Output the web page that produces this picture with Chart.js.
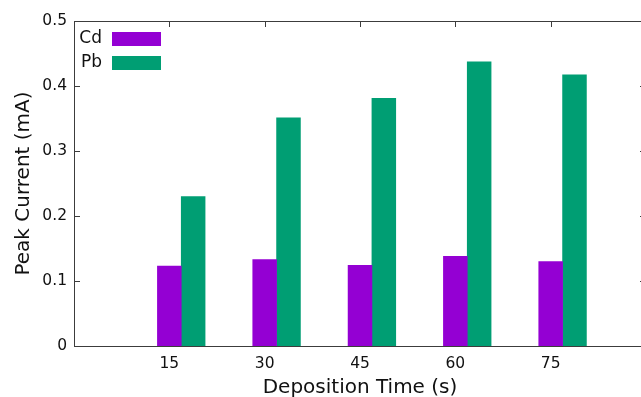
<!DOCTYPE html>
<html>
<head>
<meta charset="utf-8">
<script src="https://cdn.jsdelivr.net/npm/chart.js@4.4.1/dist/chart.umd.min.js"></script>
<style>
  html, body { margin: 0; padding: 0; background: #fff; overflow: hidden; }
  #wrap { width: 641px; height: 397px; overflow: hidden; }
  canvas { display: block; }
</style>
</head>
<body>
<div id="wrap"><canvas id="chart" width="650" height="400"></canvas></div>
<script>
// data
const times  = [15, 30, 45, 60, 75];
const cdPeak = [0.123, 0.133, 0.124, 0.138, 0.130];
const pbPeak = [0.230, 0.351, 0.381, 0.437, 0.417];
const yTicks = [0, 0.1, 0.2, 0.3, 0.4, 0.5];

const FONT = "'DejaVu Sans', Verdana, sans-serif";
const INK  = '#111';
const AXIS = '#3c3c3c';

// gnuplot style frame with inward ticks on all four sides
const framePlugin = {
  id: 'frame',
  beforeDatasetsDraw(chart) {
    const { ctx, chartArea: a, scales: { x, y } } = chart;
    ctx.save();
    ctx.strokeStyle = AXIS;
    ctx.lineWidth = 1;
    ctx.beginPath();
    yTicks.forEach(v => {
      const py = Math.round(y.getPixelForValue(v)) + 0.5;
      ctx.moveTo(a.left, py);  ctx.lineTo(a.left + 6, py);
      ctx.moveTo(a.right, py); ctx.lineTo(a.right - 6, py);
    });
    times.forEach((t, i) => {
      const px = Math.round(x.getPixelForValue(i)) + 0.5;
      ctx.moveTo(px, a.bottom); ctx.lineTo(px, a.bottom - 6);
      ctx.moveTo(px, a.top);    ctx.lineTo(px, a.top + 6);
    });
    ctx.stroke();
    ctx.restore();
  },
  afterDatasetsDraw(chart) {
    const { ctx, chartArea: a } = chart;
    ctx.save();
    ctx.strokeStyle = AXIS;
    ctx.lineWidth = 1;
    ctx.strokeRect(a.left + 0.5, a.top + 0.5, a.right - a.left, a.bottom - a.top);
    ctx.restore();
  }
};

// key in the top-left corner: label, then colour swatch
const keyPlugin = {
  id: 'key',
  afterDraw(chart) {
    const { ctx, chartArea: a } = chart;
    ctx.save();
    ctx.font = '17px ' + FONT;
    ctx.textAlign = 'right';
    ctx.textBaseline = 'middle';
    chart.data.datasets.forEach((ds, i) => {
      const cy = a.top + 18 + i * 24;
      ctx.fillStyle = INK;
      ctx.fillText(ds.label, a.left + 28, cy);
      ctx.fillStyle = ds.backgroundColor;
      ctx.fillRect(a.left + 38, cy - 7, 49, 14);
    });
    ctx.restore();
  }
};

new Chart(document.getElementById('chart'), {
  type: 'bar',
  data: {
    datasets: [
      {
        label: 'Cd',
        data: cdPeak.map((v, i) => ({ x: i, y: v })),
        backgroundColor: '#9400D3'
      },
      {
        label: 'Pb',
        data: pbPeak.map((v, i) => ({ x: i + 0.25, y: v })),
        backgroundColor: '#009E73'
      }
    ]
  },
  options: {
    responsive: false,
    animation: false,
    grouped: false,
    barPercentage: 1,
    categoryPercentage: 1,
    borderWidth: 0,
    layout: { padding: { top: 21, right: 4, left: 0, bottom: 0 } },
    plugins: {
      legend: { display: false },
      tooltip: { enabled: false }
    },
    scales: {
      x: {
        type: 'linear',
        offset: false,
        min: -1,
        max: times.length,
        grid: { display: false, drawTicks: false },
        border: { display: false },
        afterBuildTicks: s => { s.ticks = times.map((t, i) => ({ value: i })); },
        afterFit: s => { s.height = 54; },
        ticks: {
          padding: 9,
          color: INK,
          font: { family: FONT, size: 15.5 },
          callback: v => times[v]
        },
        title: {
          display: true,
          text: 'Deposition Time (s)',
          color: INK,
          font: { family: FONT, size: 20 },
          padding: 0
        }
      },
      y: {
        min: 0,
        max: 0.5,
        grid: { display: false, drawTicks: false },
        border: { display: false },
        afterBuildTicks: s => { s.ticks = yTicks.map(v => ({ value: v })); },
        afterFit: s => { s.width = 74; },
        ticks: {
          padding: 7,
          color: INK,
          font: { family: FONT, size: 15.5 },
          callback: v => String(v)
        },
        title: {
          display: true,
          text: 'Peak Current (mA)',
          color: INK,
          font: { family: FONT, size: 20 },
          padding: { top: 12, bottom: 0 }
        }
      }
    }
  },
  plugins: [framePlugin, keyPlugin]
});
</script>
</body>
</html>
